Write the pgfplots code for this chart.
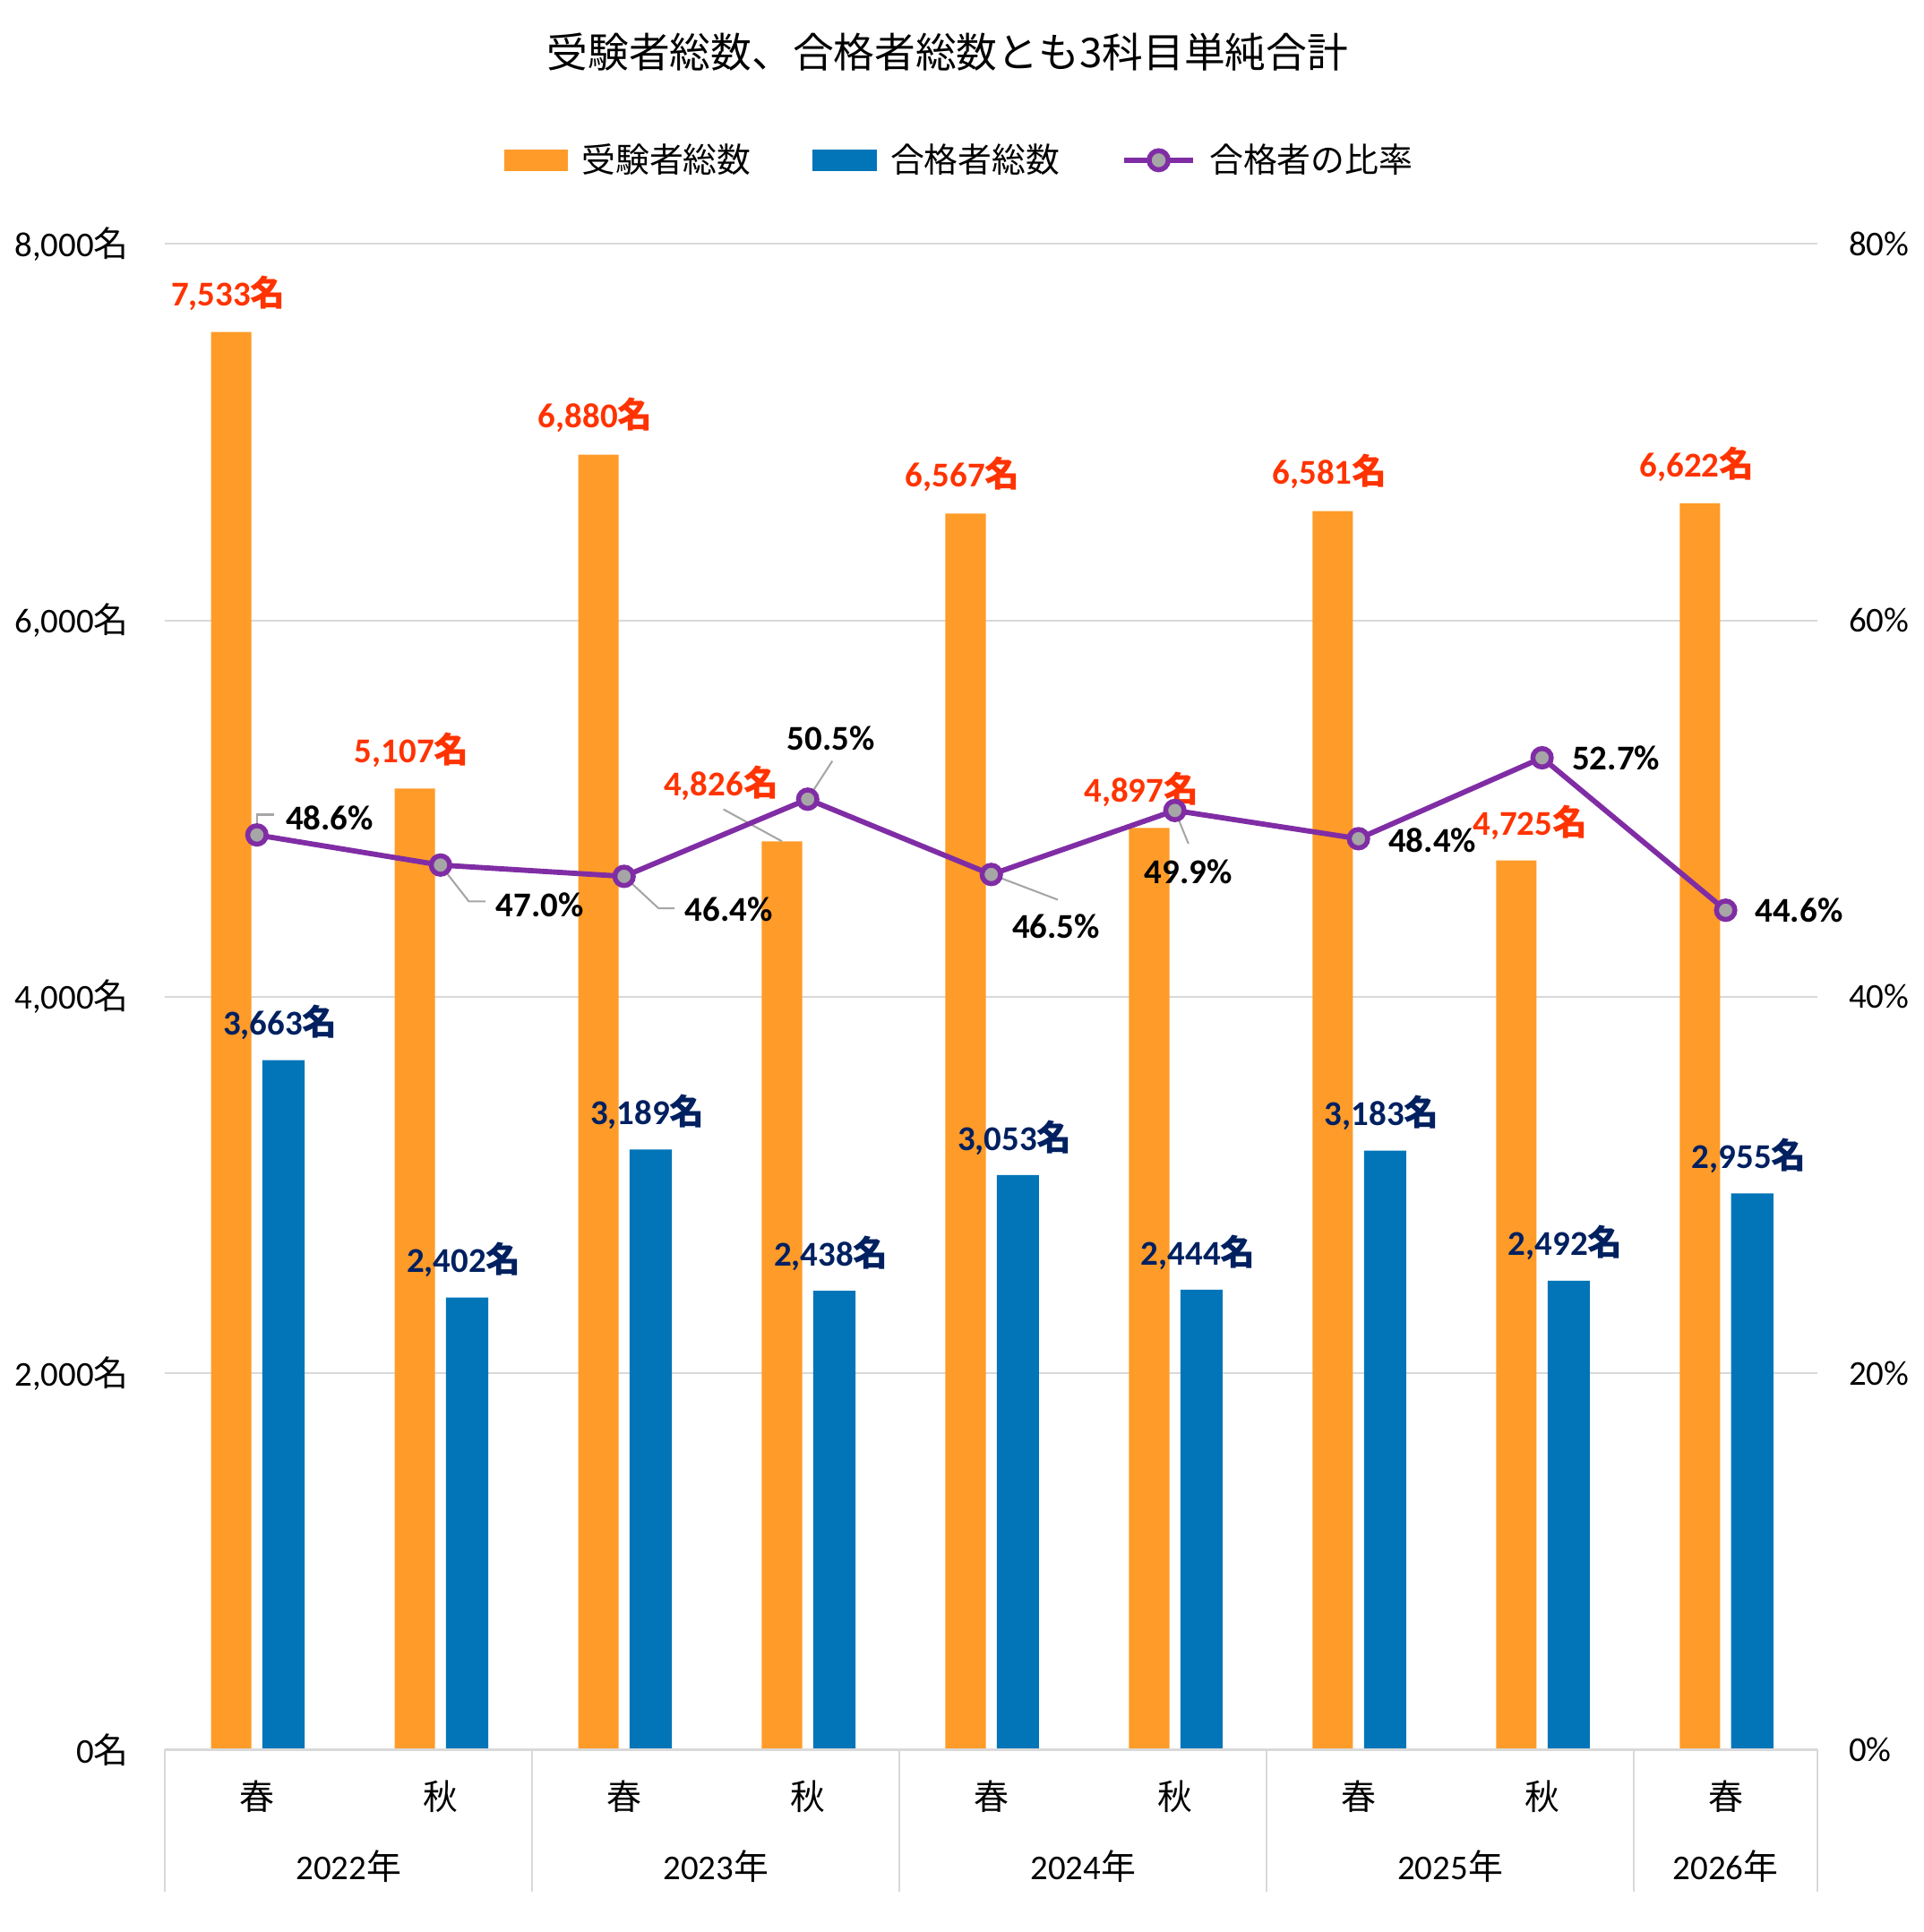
\documentclass[border=0pt]{standalone}
\usepackage{pgfplots}
\pgfplotsset{compat=1.18}
\usepackage{pgfplotstable}
\usepackage{fontspec}
\setmainfont{Carlito}
\newfontfamily\cjk{Noto Sans CJK JP}

\definecolor{barorange}{RGB}{255,155,40}
\definecolor{barblue}{RGB}{2,117,185}
\definecolor{lblorange}{RGB}{255,51,0}
\definecolor{lblblue}{RGB}{0,32,96}
\definecolor{ratepurple}{RGB}{128,45,165}
\definecolor{markgray}{RGB}{166,166,166}
\definecolor{gridgray}{RGB}{217,217,217}
\definecolor{leadergray}{RGB}{166,166,166}

\newcommand\lblfont{\fontsize{11.3}{13.5}\selectfont}

% 受験者総数 (x, value, label offset dx/dy in pt; dx includes the bar shift)
\pgfplotstableread{
x  y     dx     dy
0  7533  -9.3   12.4
1  5107  -9.3   12.4
2  6880  -9.3   12.8
3  4826  -28.1  19.0
4  6567  -9.3   12.8
5  4897  -10.9  12.4
6  6581  -9.3   12.8
7  4725  -3.9   12.4
8  6622  -9.3   12.6
}\examinees

% 合格者総数
\pgfplotstableread{
x  y     dx   dy
0  3663  7.6  12.2
1  2402  7.6  12.2
2  3189  7.6  12.2
3  2438  7.6  12.2
4  3053  7.6  12.2
5  2444  7.6  12.2
6  3183  7.6  12.2
7  2492  7.6  12.2
8  2955  7.6  12.2
}\passers

% 合格者の比率 (%)
\pgfplotstableread{
x  y     dx    dy
0  48.6  23.6  5.6
1  47.0  32.2  -12.8
2  46.4  34.0  -10.8
3  50.5  7.6   19.8
4  46.5  21.0  -16.8
5  49.9  4.4   -19.8
6  48.4  24.0  -0.4
7  52.7  24.0  0
8  44.6  23.8  0
}\rates

\pgfplotsset{
  common/.style={
    scale only axis, width=536.4pt, height=488.8pt,
    at={(53.6pt,59.2pt)}, anchor=south west,
    xmin=-0.5, xmax=8.5, enlargelimits=false, clip=false,
    major tick length=0pt,
    /pgf/number format/assume math mode=true,
  },
  rate legend/.style={
    legend image code/.code={
      \draw[ratepurple, line width=1.8pt] (0pt,0pt) -- (22.4pt,0pt);
      \draw[ratepurple, fill=markgray, line width=1.6pt] (11.2pt,0pt) circle (3.1pt);
    },
  },
}

\begin{document}
\begin{tikzpicture}
\useasboundingbox (0,0) rectangle (624.4pt,627.2pt);

\begin{axis}[common,
  ymin=0, ymax=8000, ytick={0,2000,...,8000},
  axis line style={draw=none},
  ymajorgrids, grid style={gridgray, line width=0.6pt},
  ytick pos=left, xtick pos=bottom,
  yticklabel={\pgfmathprintnumber[1000 sep={,}]{\tick}{\cjk 名}},
  y tick label style={anchor=east, inner sep=0pt, xshift=-11.6pt, font=\lblfont},
  xtick={0,...,8},
  xticklabels={春,秋,春,秋,春,秋,春,秋,春},
  x tick label style={anchor=center, inner sep=0pt, yshift=-15.2pt, font=\cjk\lblfont},
  title={受験者総数、合格者総数とも3科目単純合計},
  title style={at={(0.4735,1.1277)}, anchor=center, yshift=-6pt, font=\cjk\fontsize{13.3}{16}\selectfont},
  legend style={at={(0.482,1.0556)}, anchor=center, draw=none, fill=none,
    legend columns=3, font=\cjk\fontsize{11}{13}\selectfont,
    /tikz/every odd column/.append style={column sep=2.4pt},
    /tikz/every even column/.append style={column sep=18pt}},
  legend cell align=left,
]
\addplot[ybar, bar width=0.22, bar shift=-0.14, fill=barorange, draw=none,
  legend image code/.code={\fill[barorange] (0pt,-3.4pt) rectangle (20.8pt,3.4pt);},
  point meta=y,
  visualization depends on={\thisrow{dx} \as \dx},
  visualization depends on={\thisrow{dy} \as \dy},
  nodes near coords={\pgfmathprintnumber[1000 sep={,},fixed,precision=0]{\pgfplotspointmeta}{\cjk 名}},
  every node near coord/.append style={anchor=center, inner sep=0pt, xshift=\dx pt, yshift=\dy pt,
    font=\bfseries\lblfont, text=lblorange},
] table[x=x, y=y] {\examinees};
\addlegendentry{受験者総数}

\addplot[ybar, bar width=0.23, bar shift=0.145, fill=barblue, draw=none,
  legend image code/.code={\fill[barblue] (0pt,-3.4pt) rectangle (20.8pt,3.4pt);},
  point meta=y,
  visualization depends on={\thisrow{dx} \as \dx},
  visualization depends on={\thisrow{dy} \as \dy},
  nodes near coords={\pgfmathprintnumber[1000 sep={,},fixed,precision=0]{\pgfplotspointmeta}{\cjk 名}},
  every node near coord/.append style={anchor=center, inner sep=0pt, xshift=\dx pt, yshift=\dy pt,
    font=\bfseries\lblfont, text=lblblue},
] table[x=x, y=y] {\passers};
\addlegendentry{合格者総数}

\addlegendimage{rate legend}
\addlegendentry{合格者の比率}

% leader for the shifted 4,826 label
\draw[leadergray, line width=0.6pt] (axis cs:2.86,4826) -- ++(-19pt,10.4pt);

% baseline and category separators
\draw[gridgray, line width=0.9pt] (axis cs:-0.5,0) -- (axis cs:8.5,0);
\draw[gridgray, line width=0.6pt] (axis cs:-0.5,0) -- ++(0pt,-46pt);
\draw[gridgray, line width=0.6pt] (axis cs:1.5,0) -- ++(0pt,-46pt);
\draw[gridgray, line width=0.6pt] (axis cs:3.5,0) -- ++(0pt,-46pt);
\draw[gridgray, line width=0.6pt] (axis cs:5.5,0) -- ++(0pt,-46pt);
\draw[gridgray, line width=0.6pt] (axis cs:7.5,0) -- ++(0pt,-46pt);
\draw[gridgray, line width=0.6pt] (axis cs:8.5,0) -- ++(0pt,-46pt);

% year labels
\node[font=\lblfont, anchor=center] at (axis cs:0.5,0) [yshift=-38pt] {2022{\cjk 年}};
\node[font=\lblfont, anchor=center] at (axis cs:2.5,0) [yshift=-38pt] {2023{\cjk 年}};
\node[font=\lblfont, anchor=center] at (axis cs:4.5,0) [yshift=-38pt] {2024{\cjk 年}};
\node[font=\lblfont, anchor=center] at (axis cs:6.5,0) [yshift=-38pt] {2025{\cjk 年}};
\node[font=\lblfont, anchor=center] at (axis cs:8,0) [yshift=-38pt] {2026{\cjk 年}};
\end{axis}

\begin{axis}[common,
  ymin=0, ymax=80, ytick={0,20,...,80},
  hide x axis,
  axis y line*=right, y axis line style={draw=none},
  yticklabel={\pgfmathprintnumber{\tick}\%},
  y tick label style={anchor=west, inner sep=0pt, xshift=10pt, font=\lblfont},
]
% leader lines for the ratio labels
\draw[leadergray, line width=0.6pt] (axis cs:0,48.6) -- ++(0pt,6.6pt) -- ++(5.6pt,0pt);
\draw[leadergray, line width=0.6pt] (axis cs:1,47.0) -- ++(9.2pt,-11.8pt) -- ++(5.4pt,0pt);
\draw[leadergray, line width=0.6pt] (axis cs:2,46.4) -- ++(11.2pt,-10.4pt) -- ++(5.2pt,0pt);
\draw[leadergray, line width=0.6pt] (axis cs:3,50.5) -- ++(8pt,12.4pt);
\draw[leadergray, line width=0.6pt] (axis cs:4,46.5) -- ++(21.6pt,-8.2pt);
\draw[leadergray, line width=0.6pt] (axis cs:5,49.9) -- ++(4.4pt,-10.8pt);

\addplot[ratepurple, line width=1.7pt, mark=*, mark size=3.0pt,
  mark options={fill=markgray, draw=ratepurple, line width=1.6pt},
  point meta=y,
  visualization depends on={\thisrow{dx} \as \dx},
  visualization depends on={\thisrow{dy} \as \dy},
  nodes near coords={\pgfmathprintnumber[fixed,fixed zerofill,precision=1]{\pgfplotspointmeta}\%},
  every node near coord/.append style={anchor=center, inner sep=0pt, xshift=\dx pt, yshift=\dy pt,
    font=\bfseries\lblfont, text=black},
] table[x=x, y=y] {\rates};
\end{axis}
\end{tikzpicture}
\end{document}
